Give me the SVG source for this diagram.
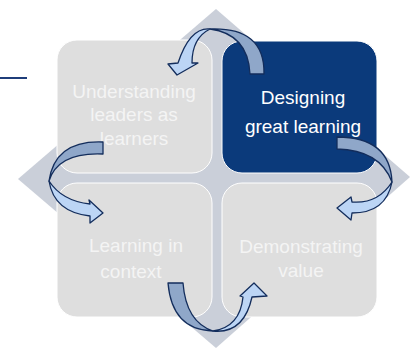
<svg xmlns="http://www.w3.org/2000/svg" width="414" height="349" viewBox="0 0 414 349">
<style>
.bg{fill:#cacfd9}
.box{fill:#dedede;stroke:#ffffff;stroke-width:1}
.hl{fill:#0b3a7b;stroke:#ffffff;stroke-width:1}
.lbl{font-family:"Liberation Sans",Arial,sans-serif;font-size:19px;fill:#f4f4f4;text-anchor:middle}
.hlt{fill:#ffffff}
.back{fill:#8fa7c9;stroke:#132d5c;stroke-width:1.3;stroke-linejoin:round}
.front{fill:#bcd5f5;stroke:#132d5c;stroke-width:1.3;stroke-linejoin:round}
.rule{stroke:#1f3d7a;stroke-width:2}
</style>
<line class="rule" x1="0" y1="78" x2="27" y2="78"/>
<polygon class="bg" points="216,9 410,177 216,348 18,179"/>
<g id="node-understanding">
<rect class="box" x="57" y="40" width="155" height="133" rx="20"/>
<text class="lbl" x="134" y="98">Understanding</text>
<text class="lbl" x="134" y="121">leaders as</text>
<text class="lbl" x="134" y="145">learners</text>
</g>
<g id="node-designing">
<rect class="hl" x="222" y="41" width="155" height="132" rx="20"/>
<text class="lbl hlt" x="303" y="104">Designing</text>
<text class="lbl hlt" x="303" y="133">great learning</text>
</g>
<g id="node-context">
<rect class="box" x="57" y="183" width="155" height="134" rx="20"/>
<text class="lbl" x="136" y="252">Learning in</text>
<text class="lbl" x="131" y="278">context</text>
</g>
<g id="node-value">
<rect class="box" x="222" y="183" width="155" height="134" rx="20"/>
<text class="lbl" x="301" y="253">Demonstrating</text>
<text class="lbl" x="301" y="277">value</text>
</g>
<g id="connectors">
<g id="arrow-top">
<path class="back" d="M264,74 Q265,27 210,29 Q248,34 250,74 Z"/>
<path class="front" d="M210,29 Q190,27 178,63 L168,64 L177,75 L198,63 L192,63 Q192,38 210,29 Z"/>
</g>
<g id="arrow-left">
<path class="back" d="M103,142 Q55,140 49,181 Q58,152 103,154 Z"/>
<path class="front" d="M49,181 Q54,212 90,216 L90,223 L103,213 L89,200 L90,204 Q62,201 49,181 Z"/>
</g>
<g id="arrow-right">
<path class="back" d="M337,137 Q390,137 392,182 Q380,150 337,149 Z"/>
<path class="front" d="M392,182 Q386,213 352,213 L351,220 L337,208 L351,197 L352,202 Q378,204 392,182 Z"/>
</g>
<g id="arrow-bottom">
<path class="back" d="M168,283 Q172,330 213,331 Q186,322 183,283 Z"/>
<path class="front" d="M213,331 Q244,334 252,297 L267,296 L254,283 L240,296 L243,297 Q240,327 213,331 Z"/>
</g>
</g>
</svg>
